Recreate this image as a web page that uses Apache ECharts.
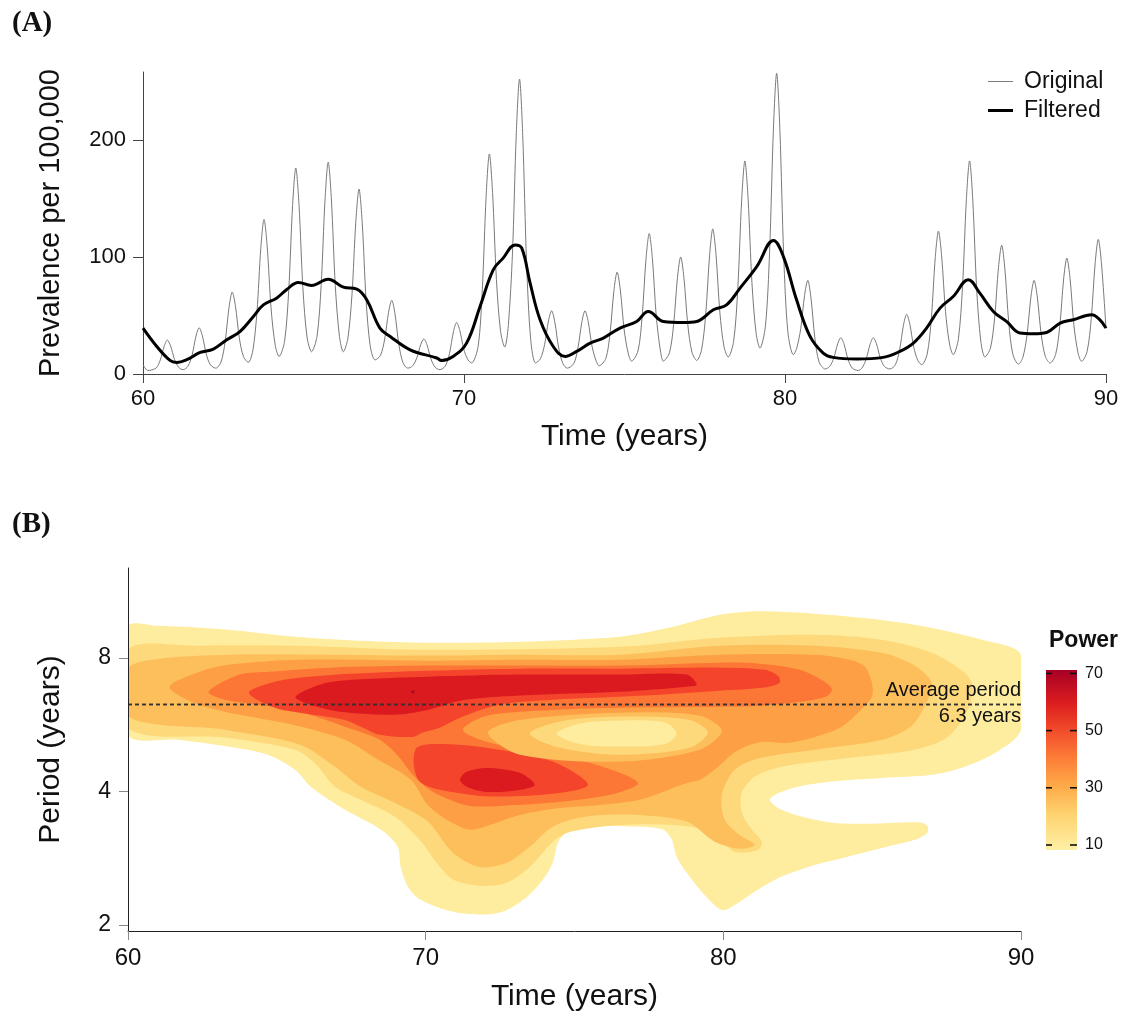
<!DOCTYPE html>
<html><head><meta charset="utf-8">
<script src="https://cdn.jsdelivr.net/npm/echarts@6/dist/echarts.min.js"></script>
<style>html,body{margin:0;padding:0;background:#fff}#c{width:1123px;height:1017px}</style>
</head><body><div id="c"></div>
<script>
const FONT = "'Liberation Sans', Arial, Helvetica, sans-serif";

// ---------- Panel A data ----------
const timeTicks = [60, 70, 80, 90];
const prevalenceTicks = [0, 100, 200];
const prevalenceMax = 258;
const originalSeries = [
[60.0,8],[60.15,3],
[60.41,5.1],[60.54,12.1],[60.66,23.8],[60.76,29],[60.86,23.9],[60.98,12.6],[61.11,5.7],[61.25,3.7],
[61.40,6.6],[61.53,16.2],[61.65,32.3],[61.75,39.5],[61.85,32.6],[61.97,17.1],[62.10,7.8],[62.27,5],
[62.43,10.2],[62.56,27.8],[62.68,57],[62.78,70],[62.88,58],[63.0,31],[63.13,14.8],[63.28,10],
[63.42,19.8],[63.55,52.7],[63.67,107.6],[63.77,132],[63.87,108.6],[63.99,56],[64.12,24.4],[64.24,15],
[64.41,27.9],[64.54,71.4],[64.66,143.8],[64.76,176],[64.86,144.6],[64.98,74],[65.11,31.6],[65.25,19],
[65.42,32],[65.55,75.7],[65.67,148.6],[65.77,181],[65.87,148.6],[65.99,75.7],[66.12,32],[66.24,19],
[66.38,30.1],[66.51,67.7],[66.63,130.2],[66.73,158],[66.83,128.8],[66.95,63.1],[67.08,23.7],[67.23,12],
[67.40,16.1],[67.53,29.9],[67.65,52.8],[67.75,63],[67.85,51.4],[67.97,25.3],[68.10,9.6],[68.25,5],
[68.40,7],[68.53,13.8],[68.65,25],[68.75,30],[68.85,24.7],[68.97,12.9],[69.10,5.8],[69.25,3.7],
[69.42,6.9],[69.55,17.8],[69.67,36],[69.77,44],[69.87,37.1],[69.99,21.5],[70.12,12.2],[70.24,9.4],
[70.44,23.7],[70.57,71.9],[70.69,152.3],[70.79,188],[70.89,155],[71.01,80.8],[71.14,36.2],[71.27,23],
[71.38,41.3],[71.51,103.2],[71.63,206.2],[71.73,252],[71.83,203.5],[71.95,94.3],[72.08,28.8],[72.23,9.4],
[72.38,13],[72.51,25],[72.63,45.2],[72.73,54],[72.83,44.2],[72.95,22.2],[73.08,8.9],[73.22,5],
[73.42,8.9],[73.55,22.2],[73.67,44.2],[73.77,54],[73.87,44.6],[73.99,23.5],[74.12,10.8],[74.21,7],
[74.42,13.4],[74.55,35],[74.67,71],[74.77,87],[74.87,71.8],[74.99,37.6],[75.12,17.1],[75.22,11],
[75.42,19.7],[75.55,49.2],[75.67,98.2],[75.77,120],[75.87,98.2],[75.99,49.2],[76.12,19.7],[76.21,11],
[76.40,18.1],[76.53,42.2],[76.65,82.4],[76.75,100],[76.85,82.6],[76.97,42.5],[77.10,18.7],[77.25,11.6],
[77.40,20.6],[77.53,50.9],[77.65,101],[77.75,124],[77.85,102.2],[77.97,52.8],[78.10,23.3],[78.23,14.5],
[78.40,27.9],[78.53,73.1],[78.65,148.5],[78.75,182],[78.85,150],[78.97,78],[79.10,34.8],[79.22,22],
[79.39,40.8],[79.52,104.3],[79.64,210],[79.74,257],[79.84,208.8],[79.96,100.7],[80.09,35.7],[80.26,16.5],
[80.36,21.6],[80.49,38.7],[80.61,67.3],[80.71,80],[80.81,64.7],[80.93,30.8],[81.06,10.4],[81.25,4.3],
[81.39,6.4],[81.52,13.6],[81.64,25.7],[81.74,31],[81.84,25.4],[81.96,12.8],[82.09,5.2],[82.28,3],
[82.40,5.2],[82.53,12.8],[82.65,25.4],[82.75,31],[82.85,25.7],[82.97,13.6],[83.10,6.4],[83.27,4.3],
[83.44,8],[83.57,20.6],[83.69,41.7],[83.79,51],[83.89,42.4],[84.01,23],[84.14,11.4],[84.26,8],
[84.43,17.1],[84.56,47.9],[84.68,99.2],[84.78,122],[84.88,100.8],[85.0,53.4],[85.13,24.9],[85.24,16.5],
[85.40,29.7],[85.53,74.4],[85.65,148.9],[85.75,182],[85.85,148.5],[85.97,73.1],[86.10,27.9],[86.23,14.5],
[86.40,22.1],[86.53,47.9],[86.65,90.9],[86.75,110],[86.85,89.7],[86.97,44],[87.10,16.6],[87.27,8.5],
[87.41,14.2],[87.54,33.5],[87.66,65.7],[87.76,80],[87.86,65.8],[87.98,34.1],[88.11,15],[88.26,9.4],
[88.43,16.6],[88.56,40.8],[88.68,81.2],[88.78,99],[88.88,81.7],[89.0,41.7],[89.13,17.9],[89.24,10.8],
[89.41,19.1],[89.54,47.2],[89.66,94],[89.76,115],[89.86,94],[90.0,39]
];
const filteredSeries = [
[60,39.2],[60.43,23.5],[60.84,11.6],[61.05,9.9],[61.36,12.2],[61.78,18.4],[62.19,21.3],
[62.61,29.3],[63.02,36.3],[63.44,49.2],[63.75,59],[64.16,64.8],[64.47,72],[64.84,78.2],
[65.25,75.6],[65.77,81],[66.24,74.2],[66.66,72.5],[66.97,63.4],[67.38,39.2],[67.7,32.1],
[68.32,20.7],[69.15,13.7],[69.3,11.6],[69.66,15],[70.08,26.4],[70.5,57.7],[70.91,89],
[71.22,99],[71.59,110.3],[71.8,107.5],[72.06,77.6],[72.37,46.3],[72.78,23.5],[73.15,15],
[73.51,19.3],[73.93,26.4],[74.34,30.7],[74.86,39.2],[75.38,44.9],[75.74,53.4],[76.21,44.9],
[76.83,44],[77.25,44.9],[77.77,54.9],[78.18,59.1],[78.6,73.4],[79.12,91.8],[79.64,114],
[79.95,100.3],[80.36,63.4],[80.78,32.1],[81.19,17.9],[81.5,14.2],[82.23,12.8],[83.06,14.2],
[83.58,19.3],[84.0,26.4],[84.41,39.2],[84.83,56.3],[85.24,66.2],[85.71,80.5],[86.07,69.1],
[86.49,53.4],[86.9,44.9],[87.32,35],[87.73,34.4],[88.15,35.5],[88.57,43.5],[88.98,46.3],
[89.55,50.6],[89.81,46.3],[90,39.2]
];

// ---------- Panel B data: contour regions [time, period] ----------
const periodTicks = [2, 4, 8];
const periodRange = [1.937, 12.77];
const averagePeriod = 6.3;
const bandColors = ['#FEEC9F','#FDD97B','#FDBF5C','#FD9F44','#FC7735','#F4442B','#DB1A1F','#8E0A2A'];
const level1Region = [[60,9.42],[61,9.46],[63.35,9.27],[65.6,8.94],[67.82,8.75],[70.07,8.66],[73.16,8.71],[76.52,8.94],[78.2,9.37],[79.88,10.02],[81.39,10.2],[84.18,9.93],[86.43,9.51],[88.68,8.80],[90,8.14],[90,5.51],[89.23,4.93],[88.11,4.55],[87.0,4.36],[85.32,4.29],[83.64,4.21],[82.51,4.10],[81.84,3.96],[81.56,3.83],[81.84,3.67],[82.63,3.51],[83.64,3.40],[84.75,3.38],[85.86,3.40],[86.67,3.40],[86.87,3.33],[86.84,3.22],[86.43,3.11],[85.32,2.98],[84.18,2.85],[83.07,2.73],[81.96,2.57],[81.16,2.40],[80.39,2.22],[79.95,2.16],[79.31,2.36],[78.77,2.62],[78.43,2.85],[78.27,3.11],[77.97,3.28],[77.09,3.33],[75.41,3.33],[74.74,3.24],[74.44,3.06],[74.27,2.76],[73.94,2.53],[73.4,2.31],[72.73,2.16],[72.06,2.11],[70.92,2.14],[69.81,2.28],[69.4,2.44],[69.16,2.70],[69.06,3.0],[68.49,3.28],[67.28,3.64],[66.14,4.10],[65.6,4.48],[64.69,4.84],[63.35,5.05],[61.67,5.23],[60,5.37]];
const level2Region = [[60,8.35],[62.24,8.53],[65.6,8.53],[70.07,8.35],[76.52,8.48],[79.88,8.89],[83.07,9.03],[85.32,8.80],[87.0,8.22],[88.11,7.41],[88.38,6.89],[88.21,6.11],[87.54,5.31],[86.43,4.97],[84.18,4.76],[81.96,4.55],[81.06,4.32],[80.62,3.97],[80.62,3.58],[80.96,3.28],[81.29,3.08],[81.16,2.95],[80.39,2.92],[79.88,3.11],[79.31,3.28],[78.30,3.36],[76.52,3.36],[74.84,3.24],[74.27,3.08],[73.5,2.70],[72.73,2.49],[71.82,2.45],[70.91,2.53],[70.37,2.76],[69.8,3.11],[68.96,3.51],[67.82,3.83],[66.95,4.10],[66.27,4.64],[65.6,4.97],[63.25,5.29],[60,5.57]];
const level3Region = [[60,7.57],[61.07,7.97],[63.35,8.14],[66.78,8.14],[70.07,8.10],[73.16,8.14],[76.52,8.14],[79.88,8.53],[83.07,8.53],[85.32,8.22],[86.43,7.69],[87.0,7.04],[86.87,6.44],[86.33,5.63],[85.32,5.23],[83.07,4.97],[81.23,4.76],[80.39,4.48],[79.95,3.93],[80.05,3.45],[80.55,3.19],[81.06,3.03],[80.55,2.97],[79.71,3.08],[78.77,3.42],[77.09,3.54],[75.41,3.51],[74.27,3.33],[73.5,3.0],[72.73,2.76],[71.82,2.70],[70.91,2.91],[70.07,3.42],[68.96,3.77],[67.82,4.10],[66.95,4.55],[65.77,5.10],[63.25,5.51],[60,5.90]];
const level4Region = [[61.40,6.89],[62.41,7.45],[63.42,7.73],[65.77,7.93],[70.07,7.89],[73.16,7.93],[76.52,7.93],[79.88,8.14],[83.07,8.14],[84.25,7.93],[84.75,7.65],[84.99,7.04],[84.99,6.54],[84.52,6.02],[83.98,5.60],[83.07,5.31],[82.17,5.15],[81.39,5.18],[80.89,5.10],[80.39,4.91],[79.71,4.48],[79.21,4.25],[78.77,4.18],[77.19,3.83],[75.85,3.73],[74.51,3.67],[73.16,3.54],[72.15,3.36],[71.48,3.28],[70.81,3.42],[70.07,3.73],[69.50,4.25],[68.39,4.72],[67.28,5.23],[65.50,5.66],[63.25,6.05],[62.14,6.37]];
const level5Region = [[62.71,6.71],[63.75,7.34],[64.76,7.45],[66.78,7.61],[70.07,7.69],[73.16,7.69],[76.52,7.69],[79.88,7.81],[81.23,7.77],[82.57,7.53],[83.41,7.07],[83.65,6.78],[83.44,6.54],[82.57,6.37],[81.23,6.24],[79.88,6.21],[76.52,6.18],[74.27,6.11],[72.05,5.93],[71.25,5.51],[72.05,5.18],[74.27,4.84],[75.85,4.57],[77.13,4.18],[76.19,3.93],[74.51,3.79],[72.49,3.71],[71.48,3.71],[70.81,3.83],[70.14,4.03],[69.57,4.36],[69.13,4.76],[68.46,5.23],[67.28,5.60],[65.77,6.05],[64.36,6.28],[63.25,6.44]];
const level6Upper = [[64.06,6.68],[64.93,7.07],[65.77,7.22],[67.45,7.37],[70.07,7.49],[73.16,7.57],[76.52,7.57],[79.88,7.61],[81.39,7.53],[81.83,7.30],[81.90,7.04],[81.39,6.86],[79.88,6.75],[77.86,6.61],[76.52,6.54],[74.27,6.44],[72.49,6.28],[71.25,5.90],[70.47,5.57],[69.90,5.43],[69.57,5.31],[68.46,5.37],[67.82,5.60],[67.28,5.80],[65.77,6.02],[64.93,6.18]];
const level6Lower = [[69.70,5.02],[70.37,5.12],[72.05,5.02],[74.27,4.67],[75.45,4.14],[74.27,3.95],[72.05,3.90],[70.37,4.05],[69.80,4.21],[69.60,4.59]];
const level7Upper = [[65.63,6.54],[66.71,7.04],[68.96,7.22],[70.07,7.26],[73.16,7.34],[76.52,7.34],[78.77,7.34],[79.11,6.96],[78.77,6.89],[76.52,6.71],[73.16,6.58],[71.15,6.41],[70.07,6.11],[68.96,5.96],[67.12,6.05],[66.11,6.28]];
const level7Lower = [[71.15,4.25],[71.38,4.43],[72.05,4.52],[73.16,4.41],[73.67,4.14],[73.16,4.03],[72.05,3.99],[71.38,4.10]];
const troughLevel3 = [[72.09,5.43],[73.16,5.80],[76.52,6.02],[79.21,5.93],[79.95,5.48],[79.21,4.97],[76.52,4.67],[73.16,4.84]];
const troughLevel2 = [[73.50,5.40],[74.51,5.75],[76.52,5.90],[78.87,5.80],[79.48,5.43],[78.87,5.02],[76.52,4.84],[74.51,5.02]];
const troughLevel1 = [[74.41,5.40],[75.18,5.69],[76.52,5.78],[78.04,5.72],[78.43,5.40],[78.04,5.12],[76.52,5.05],[75.18,5.12]];
const peakDot = [[69.57, 6.71]];

// ---------- colour bar ----------
const powerTicks = [10, 30, 50, 70];
const powerRange = [8.25, 71.2];
const colorbarStops = [[8.25,'#FFEFA6'],[20,'#FED573'],[30,'#FDAD4A'],[40,'#FD7F38'],[50,'#F24C2A'],[60,'#DA1C1F'],[71.2,'#A80026']];

const contourLayers = [
  [level1Region, bandColors[0]], [level2Region, bandColors[1]], [level3Region, bandColors[2]],
  [level4Region, bandColors[3]], [level5Region, bandColors[4]], [level6Upper, bandColors[5]],
  [level6Lower, bandColors[5]], [level7Upper, bandColors[6]], [level7Lower, bandColors[6]],
  [troughLevel3, bandColors[2]], [troughLevel2, bandColors[1]], [troughLevel1, bandColors[0]]
];

function polySeries(points, color) {
  return {
    type: 'custom', xAxisIndex: 1, yAxisIndex: 1, silent: true, clip: true,
    data: points, encode: { x: 0, y: 1 },
    renderItem: function (params, api) {
      if (params.dataIndex !== 0) return null;
      const pts = points.map(function (p) { return api.coord(p); });
      return { type: 'polygon', shape: { points: pts, smooth: 0.3 }, style: { fill: color } };
    }
  };
}

const chart = echarts.init(document.getElementById('c'), null, { renderer: 'canvas' });
const series = [
  { name: 'Original', type: 'line', xAxisIndex: 0, yAxisIndex: 0, data: originalSeries, symbol: 'none',
    smooth: 0.3, lineStyle: { color: '#7a7a7a', width: 1 }, itemStyle: { color: '#7a7a7a' }, z: 2 },
  { name: 'Filtered', type: 'line', xAxisIndex: 0, yAxisIndex: 0, data: filteredSeries, symbol: 'none',
    smooth: 0.4, lineStyle: { color: '#000', width: 3 }, itemStyle: { color: '#000' }, z: 3 }
];
contourLayers.forEach(function (l) { series.push(polySeries(l[0], l[1])); });
const dashStyle = { type: [4, 3], color: '#333', width: 1.3 };
series.push({
  type: 'scatter', xAxisIndex: 1, yAxisIndex: 1, data: peakDot, symbolSize: 3, silent: true,
  itemStyle: { color: bandColors[7] }, z: 5,
  markLine: {
    silent: true, symbol: ['none', 'none'], animation: false,
    data: [
      { yAxis: averagePeriod, lineStyle: dashStyle,
        label: { show: true, position: 'insideEndTop', formatter: 'Average period', distance: [0, 4],
                 fontSize: 20, color: '#111', fontFamily: FONT } },
      { yAxis: averagePeriod, lineStyle: dashStyle,
        label: { show: true, position: 'insideEndBottom', formatter: '6.3 years', distance: [0, 2],
                 fontSize: 20, color: '#111', fontFamily: FONT } }
    ]
  }
});
series.push({
  type: 'custom', xAxisIndex: 2, yAxisIndex: 2, silent: true,
  data: [[0, powerRange[0]], [1, powerRange[1]]], encode: { x: 0, y: 1 },
  renderItem: function (params, api) {
    if (params.dataIndex !== 0) return null;
    const p0 = api.coord([0, powerRange[0]]), p1 = api.coord([1, powerRange[1]]);
    const stops = colorbarStops.map(function (s) {
      return { offset: (s[0] - powerRange[0]) / (powerRange[1] - powerRange[0]), color: s[1] };
    });
    const children = [{ type: 'rect', shape: { x: p0[0], y: p1[1], width: p1[0] - p0[0], height: p0[1] - p1[1] },
             style: { fill: new echarts.graphic.LinearGradient(0, 1, 0, 0, stops) } }];
    powerTicks.forEach(function (v) {
      const y = api.coord([0, v])[1];
      children.push({ type: 'line', shape: { x1: p0[0], y1: y, x2: p0[0] + 6, y2: y }, style: { stroke: '#111', lineWidth: 1.6 } });
      children.push({ type: 'line', shape: { x1: p1[0] - 7, y1: y, x2: p1[0], y2: y }, style: { stroke: '#111', lineWidth: 1.6 } });
    });
    return { type: 'group', children: children };
  }
});

const labelStyle = function (size) { return { fontSize: size, color: '#111', fontFamily: FONT }; };

chart.setOption({
  animation: false,
  backgroundColor: '#fff',
  textStyle: { fontFamily: FONT },
  title: [
    { text: '(A)', left: 7, top: 4, textStyle: { fontFamily: "'Liberation Serif', 'DejaVu Serif', serif", fontWeight: 'bold', fontSize: 29, color: '#111' } },
    { text: '(B)', left: 7, top: 505, textStyle: { fontFamily: "'Liberation Serif', 'DejaVu Serif', serif", fontWeight: 'bold', fontSize: 29, color: '#111' } },
    { text: 'Power', left: 1044, top: 624, textStyle: { fontFamily: FONT, fontWeight: 'bold', fontSize: 23, color: '#111' } }
  ],
  legend: {
    data: [
      { name: 'Original', icon: 'path://M0,0H25V1H0Z' },
      { name: 'Filtered', icon: 'path://M0,0H25V3H0Z' }
    ],
    orient: 'vertical', left: 988, top: 69, itemWidth: 25, itemHeight: 12, symbolKeepAspect: true,
    itemGap: 4, padding: 0, textStyle: { fontSize: 23, color: '#111', fontFamily: FONT, lineHeight: 25, padding: [0, 0, 0, 6] }
  },
  grid: [
    { left: 143, top: 72, width: 963, height: 302 },
    { left: 128, top: 568, width: 893, height: 363 },
    { left: 1046, top: 670, width: 31, height: 180 }
  ],
  xAxis: [
    { type: 'value', gridIndex: 0, min: timeTicks[0], max: timeTicks[timeTicks.length - 1], interval: 10,
      axisLine: { show: true, onZero: false, lineStyle: { color: '#444', width: 1 } },
      axisTick: { show: true, length: 9, lineStyle: { color: '#444' } },
      axisLabel: Object.assign({ margin: 14 }, labelStyle(22)), splitLine: { show: false },
      name: 'Time (years)', nameLocation: 'middle', nameGap: 48, nameTextStyle: labelStyle(30) },
    { type: 'value', gridIndex: 1, min: timeTicks[0], max: timeTicks[timeTicks.length - 1], interval: 10, z: 10,
      axisLine: { show: true, onZero: false, lineStyle: { color: '#222', width: 1 } },
      axisTick: { show: true, length: 9, lineStyle: { color: '#888' } },
      axisLabel: Object.assign({ margin: 15 }, labelStyle(24)), splitLine: { show: false },
      name: 'Time (years)', nameLocation: 'middle', nameGap: 51, nameTextStyle: labelStyle(30) },
    { type: 'value', gridIndex: 2, min: 0, max: 1, show: false }
  ],
  yAxis: [
    { type: 'value', gridIndex: 0, min: prevalenceTicks[0], max: prevalenceMax,
      axisLine: { show: true, onZero: false, lineStyle: { color: '#444', width: 1 } },
      axisTick: { show: true, length: 10, customValues: prevalenceTicks, lineStyle: { color: '#444' } },
      axisLabel: Object.assign({ margin: 17, customValues: prevalenceTicks }, labelStyle(22)), splitLine: { show: false },
      name: 'Prevalence per 100,000', nameLocation: 'middle', nameGap: 78, nameRotate: 90, nameTextStyle: labelStyle(29) },
    { type: 'log', logBase: 2, gridIndex: 1, min: periodRange[0], max: periodRange[1], z: 10,
      axisLine: { show: true, onZero: false, lineStyle: { color: '#222', width: 1 } },
      axisTick: { show: true, length: 9, customValues: periodTicks, lineStyle: { color: '#888' } },
      axisLabel: Object.assign({ margin: 17, customValues: periodTicks }, labelStyle(23)),
      splitLine: { show: false }, minorTick: { show: false },
      name: 'Period (years)', nameLocation: 'middle', nameGap: 62, nameRotate: 90, nameTextStyle: labelStyle(30) },
    { type: 'value', gridIndex: 2, min: powerRange[0], max: powerRange[1], position: 'right',
      axisLine: { show: false }, axisTick: { show: false },
      axisLabel: Object.assign({ margin: 8, customValues: powerTicks }, labelStyle(16)), splitLine: { show: false } }
  ],
  series: series
});
</script>
</body></html>
